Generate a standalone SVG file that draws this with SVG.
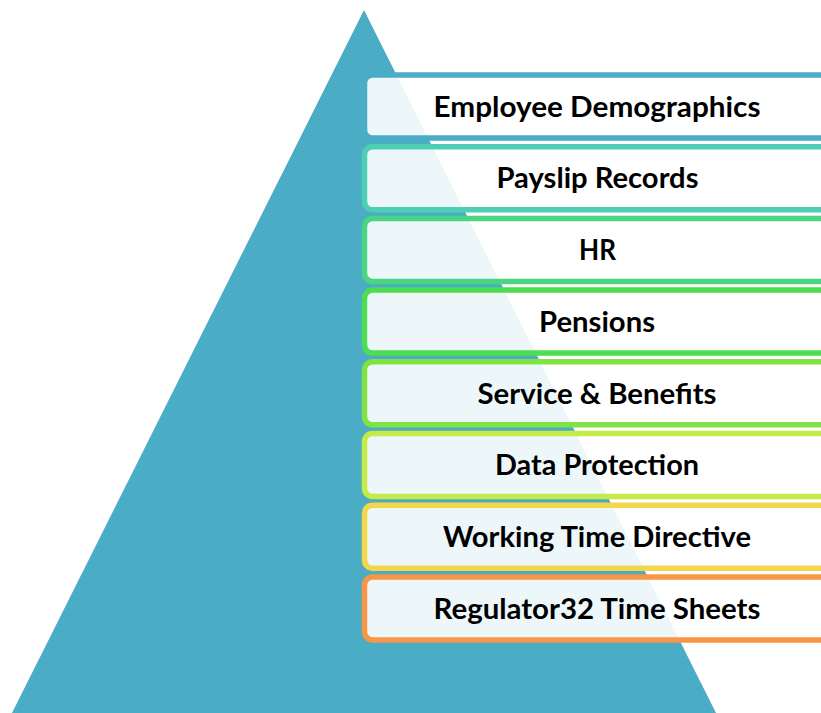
<svg xmlns="http://www.w3.org/2000/svg" width="821" height="713" viewBox="0 0 821 713">
<style>
.box{fill:#ffffff;fill-opacity:0.9;stroke-width:5.5}
.lbl{font-family:Lato,"Open Sans","Liberation Sans",sans-serif;font-weight:bold;font-size:28px;fill:#000000;text-anchor:middle}
</style>
<rect width="821" height="713" fill="#ffffff"/>
<g id="pyramid"><polygon points="364,10 716,713 12,713" fill="#4BACC6"/></g>
<g id="connectors"/>
<g id="n1"><rect class="box" x="364.5" y="75" width="480" height="63" rx="8" stroke="#4BACC6"/><text class="lbl" x="597" y="116.7" textLength="327" lengthAdjust="spacingAndGlyphs">Employee Demographics</text></g>
<g id="n2"><rect class="box" x="364.5" y="146.7" width="480" height="63" rx="8" stroke="#4ECFB5"/><text class="lbl" x="597.5" y="188.4" textLength="202" lengthAdjust="spacingAndGlyphs">Payslip Records</text></g>
<g id="n3"><rect class="box" x="364.5" y="218.4" width="480" height="63" rx="8" stroke="#4AD583"/><text class="lbl" x="597.5" y="260.1" textLength="37" lengthAdjust="spacingAndGlyphs">HR</text></g>
<g id="n4"><rect class="box" x="364.5" y="290.1" width="480" height="63" rx="8" stroke="#4CDD50"/><text class="lbl" x="597" y="331.8" textLength="116" lengthAdjust="spacingAndGlyphs">Pensions</text></g>
<g id="n5"><rect class="box" x="364.5" y="361.8" width="480" height="63" rx="8" stroke="#80E343"/><text class="lbl" x="597" y="403.5" textLength="239" lengthAdjust="spacingAndGlyphs">Service &amp; Benefits</text></g>
<g id="n6"><rect class="box" x="364.5" y="433.5" width="480" height="63" rx="8" stroke="#C5EB48"/><text class="lbl" x="597" y="475.2" textLength="204" lengthAdjust="spacingAndGlyphs">Data Protection</text></g>
<g id="n7"><rect class="box" x="364.5" y="505.2" width="480" height="63" rx="8" stroke="#F3D64A"/><text class="lbl" x="597" y="546.9" textLength="308" lengthAdjust="spacingAndGlyphs">Working Time Directive</text></g>
<g id="n8"><rect class="box" x="364.5" y="576.9" width="480" height="63" rx="8" stroke="#F79646"/><text class="lbl" x="597" y="618.6" textLength="327" lengthAdjust="spacingAndGlyphs">Regulator32 Time Sheets</text></g>
</svg>
